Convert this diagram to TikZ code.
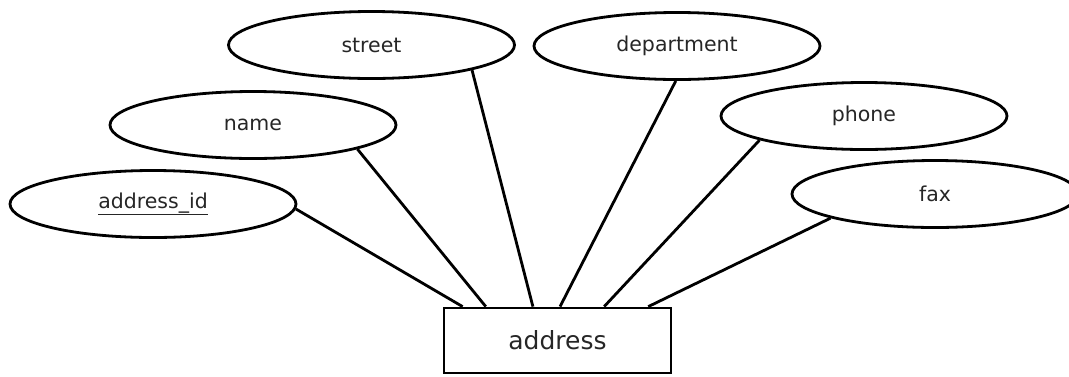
\documentclass[tikz,border=0pt]{standalone}
\usepackage{fontspec}
\setmainfont{DejaVu Sans}
\usetikzlibrary{shapes.geometric,calc}
\begin{document}
\begin{tikzpicture}[x=1pt,y=-1pt,
  attr/.style={ellipse,draw=black,line width=2.8pt,minimum width=286pt,minimum height=67pt,inner sep=0pt,font=\fontsize{20.5}{24}\selectfont,text=black!85},
  entity/.style={rectangle,draw=black,line width=2.8pt,minimum width=227pt,minimum height=65pt,inner sep=0pt,font=\fontsize{25}{28}\selectfont,text=black!85},
  link/.style={line width=2.8pt,draw=black}]
\useasboundingbox (0,0) rectangle (1069,376);
\node[entity] (addr) at (557.5,340.5) {address};
\node[attr] (aid) at (153,204) {\underline{address\_id}};
\node[attr] (name) at (253,125) {name};
\node[attr] (street) at (371.5,45) {street};
\node[attr] (dept) at (677,46) {department};
\node[attr] (phone) at (864,116) {phone};
\node[attr] (fax) at (935,194) {fax};
\coordinate (p1) at ($(addr.north west)!0.087!(addr.north east)$);
\coordinate (p2) at ($(addr.north west)!0.188!(addr.north east)$);
\coordinate (p3) at ($(addr.north west)!0.393!(addr.north east)$);
\coordinate (p4) at ($(addr.north west)!0.511!(addr.north east)$);
\coordinate (p5) at ($(addr.north west)!0.703!(addr.north east)$);
\coordinate (p6) at ($(addr.north west)!0.895!(addr.north east)$);
\draw[link] (aid.-2) -- (p1);
\draw[link] (name.-13) -- (p2);
\draw[link] (street.-14) -- (p3);
\draw[link] (dept.-92) -- (p4);
\draw[link] (phone.193) -- (p5);
\draw[link] (fax.193) -- (p6);
\end{tikzpicture}
\end{document}
